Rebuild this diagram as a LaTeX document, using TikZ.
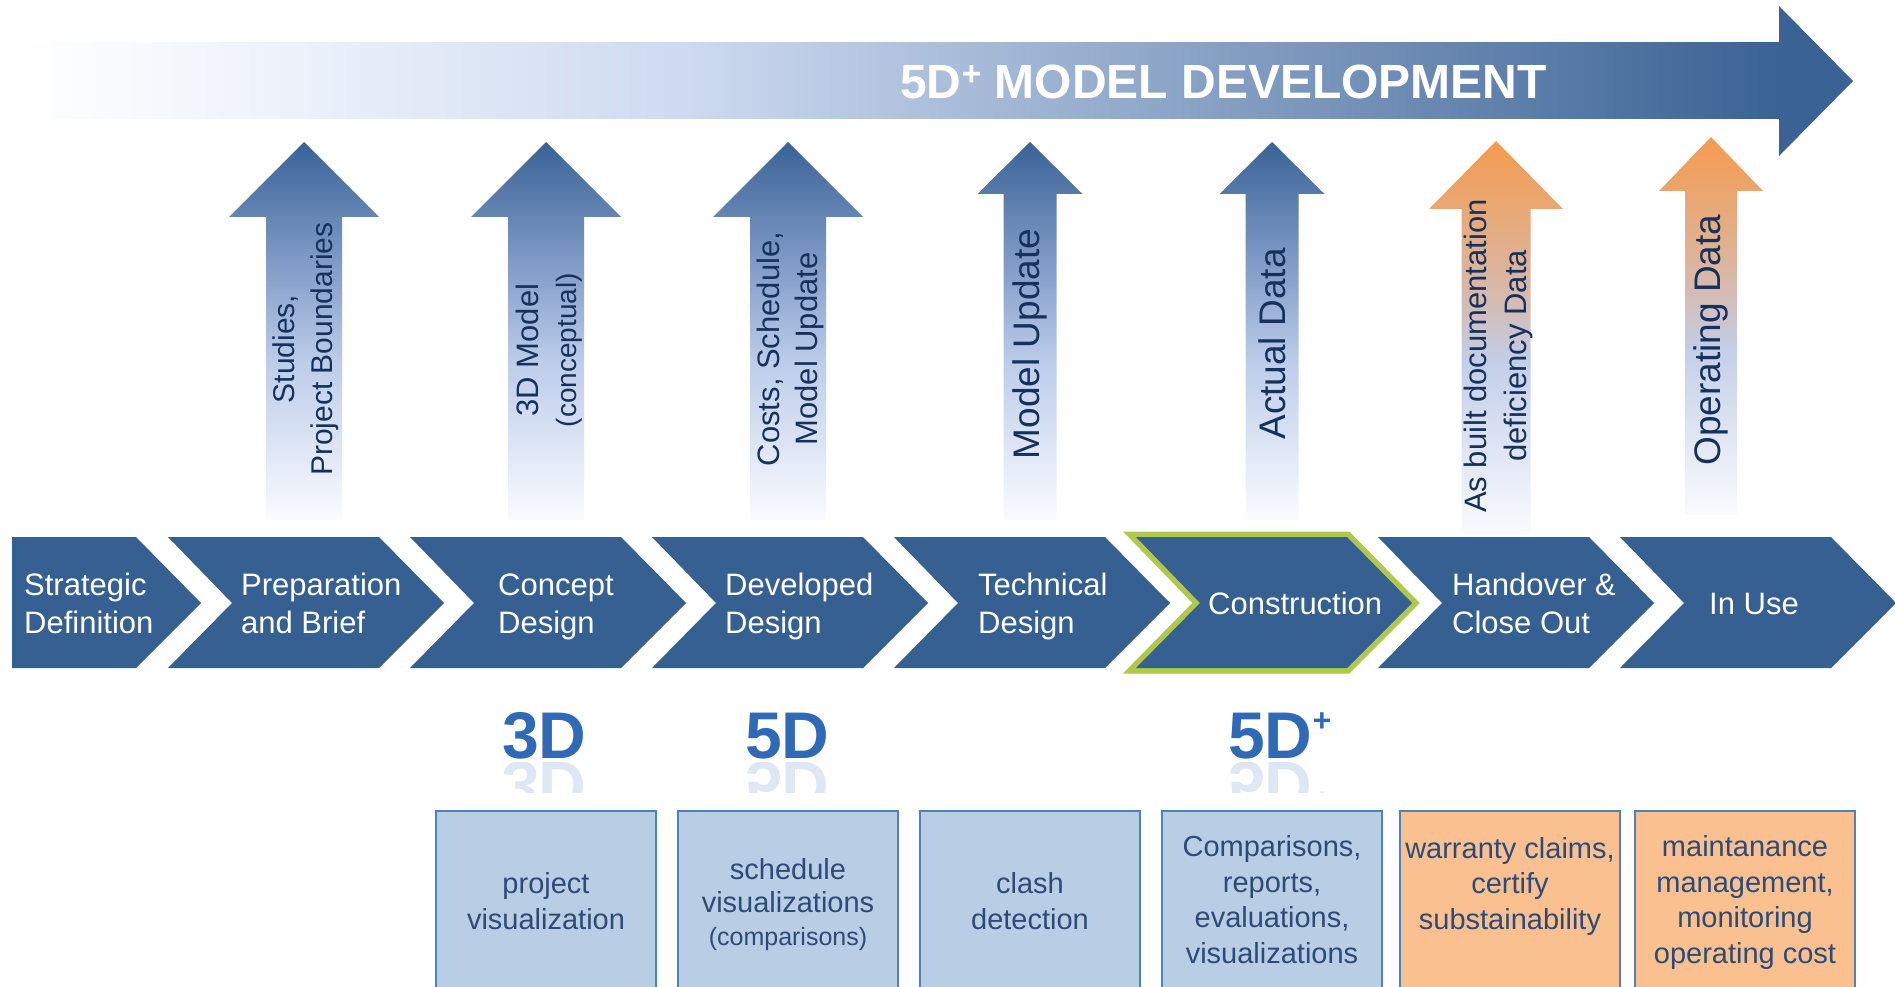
\documentclass[tikz,border=0pt]{standalone}
\usepackage{fontspec}
\setmainfont{Liberation Sans}
\definecolor{chev}{RGB}{55,96,146}
\definecolor{arrtop}{RGB}{58,98,150}
\definecolor{arrmidA}{RGB}{128,155,199}
\definecolor{arrmidB}{RGB}{188,204,234}
\definecolor{arrbot}{RGB}{250,251,254}
\definecolor{ortop}{RGB}{245,155,80}
\definecolor{ormidA}{RGB}{232,168,118}
\definecolor{ormidB}{RGB}{214,186,176}
\definecolor{ormidC}{RGB}{195,206,232}
\definecolor{bandA}{RGB}{236,241,250}
\definecolor{bandB}{RGB}{205,218,240}
\definecolor{bandC}{RGB}{58,98,148}
\definecolor{labeltxt}{RGB}{22,50,92}
\definecolor{boxtxtc}{RGB}{45,75,120}
\definecolor{boxblue}{RGB}{185,205,229}
\definecolor{boxorange}{RGB}{250,192,144}
\definecolor{boxline}{RGB}{79,129,189}
\definecolor{cgreen}{RGB}{176,200,76}
\definecolor{logoblue}{RGB}{48,105,182}
\pgfdeclareverticalshading{bluearr}{100bp}{color(0bp)=(arrbot); color(25bp)=(arrbot); color(46bp)=(arrmidB); color(59bp)=(arrmidA); color(75bp)=(arrtop); color(100bp)=(arrtop)}
\pgfdeclareverticalshading{orarr}{100bp}{color(0bp)=(arrbot); color(25bp)=(arrbot); color(47bp)=(ormidC); color(55bp)=(ormidB); color(66bp)=(ormidA); color(75bp)=(ortop); color(100bp)=(ortop)}
\pgfdeclarehorizontalshading{bandshade}{100bp}{color(0bp)=(white); color(25bp)=(white); color(33bp)=(bandA); color(44bp)=(bandB); color(75bp)=(bandC); color(100bp)=(bandC)}
\newcommand\vArrow[7]{\shade[shading=#7] (#1,#2) -- ({#1+#4},#3) -- ({#1+#5},#3) -- ({#1+#5},#6) -- ({#1-#5},#6) -- ({#1-#5},#3) -- ({#1-#4},#3) -- cycle;}
\newcommand\chevpath[1]{(#1,537) -- ({#1+211},537) -- ({#1+276},603) -- ({#1+211},668) -- (#1,668) -- ({#1+64},603) -- cycle}
\tikzset{
  chevtxt/.style={anchor=base west, align=left, text=white, inner sep=0, font=\fontsize{31}{38}\selectfont},
  rotlabel/.style={rotate=90, align=center, text=labeltxt, inner sep=0},
  boxtxt/.style={anchor=base, align=center, text=boxtxtc, inner sep=0, font=\fontsize{29}{35.5}\selectfont},
  infobox/.style={draw=boxline, line width=2},
  logo/.style={anchor=base west, text=logoblue, inner sep=0, font=\bfseries\fontsize{66}{66}\selectfont}
}
\begin{document}
\begin{tikzpicture}[x=1pt,y=-1pt]
\useasboundingbox (0,0) rectangle (1895,987);
\clip (0,0) rectangle (1895,987);
% big top arrow
\shade[shading=bandshade] (20,43) rectangle (1780,119);
\fill[bandC] (1779,6) -- (1853,81) -- (1779,156) -- cycle;
\node[anchor=base west, text=white, inner sep=0, font=\bfseries\fontsize{48}{48}\selectfont] (title) at (900,99) {5D\raisebox{13pt}{\fontsize{34}{34}\selectfont+} MODEL DEVELOPMENT};
% vertical arrows
\vArrow{304}{142}{217}{75}{38}{520}{bluearr}
\vArrow{546}{142}{217}{75}{38}{520}{bluearr}
\vArrow{788}{142}{217}{75}{38}{520}{bluearr}
\vArrow{1030}{142}{194}{52.5}{26.5}{520}{bluearr}
\vArrow{1272}{142}{194}{52.5}{26.5}{520}{bluearr}
\vArrow{1496}{141}{209}{67}{34.5}{535}{orarr}
\vArrow{1711}{137}{191}{52}{26}{515}{orarr}
\node[rotlabel, font=\fontsize{30}{38}\selectfont] (a1) at (306,349) {Studies,\\Project Boundaries};
\node[rotlabel, font=\fontsize{31}{38}\selectfont] (a2) at (549,350) {3D Model\\\fontsize{28}{38}\selectfont (conceptual)};
\node[rotlabel, font=\fontsize{31}{38}\selectfont] (a3) at (790,349) {Costs, Schedule,\\Model Update};
\node[rotlabel, font=\fontsize{37}{40}\selectfont] (a4) at (1030,344) {Model Update};
\node[rotlabel, font=\fontsize{37}{40}\selectfont] (a5) at (1272,344) {Actual Data};
\node[rotlabel, font=\fontsize{31}{40}\selectfont] (a6) at (1498,356) {As built documentation\\deficiency Data};
\node[rotlabel, font=\fontsize{37}{40}\selectfont] (a7) at (1711,340) {Operating Data};
% chevrons
\fill[chev] (12,537) -- (136,537) -- (201,603) -- (136,668) -- (12,668) -- cycle;
\fill[chev] \chevpath{168};
\fill[chev] \chevpath{410};
\fill[chev] \chevpath{652};
\fill[chev] \chevpath{894};
\draw[cgreen, line width=11, line join=miter] \chevpath{1136};
\fill[chev] \chevpath{1136};
\fill[chev] \chevpath{1378};
\fill[chev] \chevpath{1620};
\node[chevtxt] (c1) at (24,633) {Strategic\\Definition};
\node[chevtxt] (c2) at (241,633) {Preparation\\and Brief};
\node[chevtxt] (c3) at (498,633) {Concept\\Design};
\node[chevtxt] (c4) at (725,633) {Developed\\Design};
\node[chevtxt] (c5) at (978,633) {Technical\\Design};
\node[chevtxt] (c6) at (1208,614) {Construction};
\node[chevtxt] (c7) at (1452,633) {Handover \&\\Close Out};
\node[chevtxt] (c8) at (1709,614) {In Use};
% logos
\node[logo] (l3) at (502,758) {3D};
\node[logo] (l5) at (745,758) {5D};
\node[logo] (l5p) at (1228,758) {5D\raisebox{27pt}{\fontsize{32}{32}\selectfont+}};
\begin{scope}
\clip (480,762) rectangle (1360,792);
\node[logo, yscale=-1, opacity=0.16] (r3) at (502,762) {3D};
\node[logo, yscale=-1, opacity=0.16] (r5) at (745,762) {5D};
\node[logo, yscale=-1, opacity=0.16] (r5p) at (1228,762) {5D\raisebox{27pt}{\fontsize{32}{32}\selectfont+}};
\end{scope}
% boxes
\filldraw[infobox, fill=boxblue] (436,811) rectangle (656,1000);
\filldraw[infobox, fill=boxblue] (678,811) rectangle (898,1000);
\filldraw[infobox, fill=boxblue] (920,811) rectangle (1140,1000);
\filldraw[infobox, fill=boxblue] (1162,811) rectangle (1382,1000);
\filldraw[infobox, fill=boxorange] (1400,811) rectangle (1620,1000);
\filldraw[infobox, fill=boxorange] (1635,811) rectangle (1855,1000);
\node[boxtxt] (b1) at (546,929) {project\\visualization};
\node[boxtxt, font=\fontsize{29}{33}\selectfont] (b2) at (788,945) {schedule\\visualizations\\\fontsize{25}{33}\selectfont (comparisons)};
\node[boxtxt] (b3) at (1030,929) {clash\\detection};
\node[boxtxt] (b4) at (1272,963) {Comparisons,\\reports,\\evaluations,\\visualizations};
\node[boxtxt] (b5) at (1510,929) {warranty claims,\\certify\\substainability};
\node[boxtxt] (b6) at (1745,963) {maintanance\\management,\\monitoring\\operating cost};
\end{tikzpicture}
\end{document}
